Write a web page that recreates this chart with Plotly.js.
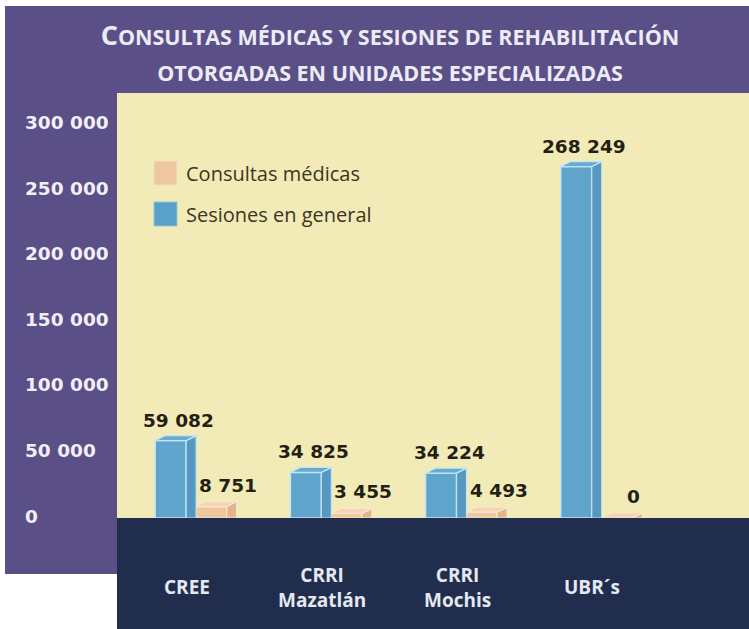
<!DOCTYPE html>
<html>
<head>
<meta charset="utf-8">
<script src="https://cdn.plot.ly/plotly-3.0.1.min.js"></script>
<style>html,body{margin:0;padding:0;background:#fff;}#chart{width:749px;height:629px;}</style>
</head>
<body>
<div id="chart"></div>
<script>
// ---- data ----
const categories = ["CREE", "CRRI<br>Mazatlán", "CRRI<br>Mochis", "UBR´s"];
const sesiones = [59082, 34825, 34224, 268249];
const consultas = [8751, 3455, 4493, 0];
const yTicks = [0, 50000, 100000, 150000, 200000, 250000, 300000];
const seriesNames = ["Consultas médicas", "Sesiones en general"];

// ---- geometry / style ----
const W = 749, H = 629;
const plotL = 117, plotT = 93, plotB = 518;
const yMax = 324400;
const xMin = -0.397, xMax = 4.278;
const pxPerX = (W - plotL) / (xMax - xMin);
const pxPerY = (plotB - plotT) / yMax;
const barW = 0.229;
const consOff = 0.30;
const dX = 10 / pxPerX, dY = 5 / pxPerY;

const fmt = v => String(v).replace(/\B(?=(\d{3})+(?!\d))/g, ' ');
const idx = categories.map((c, i) => i);

const blue = {front: '#5fa4cb', side: '#5798c0', top: '#68abd0', edge: '#c2e4f5'};
const peach = {front: '#eec7a0', side: '#e2b68b', top: '#f4d4b2', edge: '#fae6cc'};

function faceTraces(xs, vals, col) {
  const sx = [], sy = [], tx = [], ty = [];
  xs.forEach((xc, k) => {
    const v = vals[k], xl = xc - barW / 2, xr = xc + barW / 2;
    sx.push(xr, xr + dX, xr + dX, xr, xr, null);
    sy.push(0, 0, v + dY, v, 0, null);
    tx.push(xl, xr, xr + dX, xl + dX, xl, null);
    ty.push(v, v, v + dY, v + dY, v, null);
  });
  const base = {type: 'scatter', mode: 'lines', fill: 'toself', hoverinfo: 'skip', showlegend: false,
                line: {color: col.edge, width: 1.2}};
  return [Object.assign({}, base, {x: sx, y: sy, fillcolor: col.side}),
          Object.assign({}, base, {x: tx, y: ty, fillcolor: col.top})];
}

const xSes = idx.slice();
const xCon = idx.map(i => i + consOff);

const traces = [
  {type: 'bar', name: seriesNames[0], x: xCon, y: consultas, width: barW,
   marker: {color: peach.front, line: {color: peach.edge, width: 1.2}}, hoverinfo: 'skip', showlegend: false},
  ...faceTraces(xCon, consultas, peach),
  {type: 'bar', name: seriesNames[1], x: xSes, y: sesiones, width: barW,
   marker: {color: blue.front, line: {color: blue.edge, width: 1.5}}, hoverinfo: 'skip', showlegend: false},
  ...faceTraces(xSes, sesiones, blue)
];

const py = p => 1 - p / H;
const px = p => p / W;

const shapes = [
  {type: 'rect', xref: 'paper', yref: 'paper', x0: px(5), x1: 1, y0: py(574), y1: py(6),
   fillcolor: '#5a5087', line: {width: 0}, layer: 'below'},
  {type: 'rect', xref: 'paper', yref: 'paper', x0: px(plotL), x1: 1, y0: py(plotB), y1: py(plotT),
   fillcolor: '#f3ebb7', line: {width: 0}, layer: 'below'},
  {type: 'rect', xref: 'paper', yref: 'paper', x0: px(plotL), x1: 1, y0: 0, y1: py(plotB),
   fillcolor: '#202d4d', line: {width: 0}, layer: 'below'},
  // legend swatches
  {type: 'rect', xref: 'paper', yref: 'paper', x0: px(154), x1: px(177), y0: py(185), y1: py(161),
   fillcolor: '#edc7a0', line: {color: '#f6dfc3', width: 1}, layer: 'above'},
  {type: 'rect', xref: 'paper', yref: 'paper', x0: px(154), x1: px(177), y0: py(226), y1: py(202),
   fillcolor: '#58a2c8', line: {color: '#8fc3de', width: 1}, layer: 'above'}
];

const annotations = [];
yTicks.forEach(t => annotations.push({
  xref: 'paper', x: px(23), xanchor: 'left', yref: 'y', y: t, yanchor: 'middle', yshift: 2,
  text: '<b>' + fmt(t) + '</b>', showarrow: false,
  font: {family: 'DejaVu Sans', size: 18.5, color: '#f1eff7'}
}));
idx.forEach(i => annotations.push({
  xref: 'x', x: i + 0.12, xanchor: 'center', yref: 'paper', y: py(587), yanchor: 'middle',
  text: '<b>' + categories[i] + '</b>', showarrow: false,
  font: {family: 'Open Sans', size: 19, color: '#e4e8f1'}
}));
idx.forEach(i => annotations.push({
  xref: 'x', x: xSes[i], xanchor: 'center', xshift: 8, yref: 'y', y: sesiones[i] + dY, yanchor: 'bottom', yshift: 3,
  text: '<b>' + fmt(sesiones[i]) + '</b>', showarrow: false,
  font: {family: 'DejaVu Sans', size: 18.5, color: '#231f14'}
}));
idx.forEach(i => annotations.push({
  xref: 'x', x: xCon[i], xanchor: 'center', xshift: 17, yref: 'y', y: consultas[i], yanchor: 'bottom', yshift: 9,
  text: '<b>' + fmt(consultas[i]) + '</b>', showarrow: false,
  font: {family: 'DejaVu Sans', size: 18.5, color: '#231f14'}
}));
seriesNames.forEach((n, k) => annotations.push({
  xref: 'paper', x: px(184), xanchor: 'left', yref: 'paper', y: py(k === 0 ? 174 : 214), yanchor: 'middle',
  text: n, showarrow: false,
  font: {family: 'Open Sans', size: 20, color: '#3b3522'}
}));

const layout = {
  width: W, height: H,
  margin: {l: 0, r: 0, t: 0, b: 0, pad: 0},
  paper_bgcolor: '#ffffff', plot_bgcolor: 'rgba(0,0,0,0)',
  barmode: 'overlay',
  showlegend: false,
  title: {
    text: '<span style="font-size:27px">C</span><span style="font-size:21.5px">ONSULTAS MÉDICAS Y SESIONES DE REHABILITACIÓN</span><br><span style="font-size:21.5px">OTORGADAS EN UNIDADES ESPECIALIZADAS</span>',
    font: {family: 'Open Sans', size: 28, color: '#ecebf5', weight: 'bold'},
    x: 390 / W, xanchor: 'center', xref: 'paper',
    y: py(45), yanchor: 'top', yref: 'container'
  },
  xaxis: {domain: [px(plotL), 1], range: [xMin, xMax], showgrid: false, zeroline: false,
          showticklabels: false, ticks: '', showline: false, fixedrange: true},
  yaxis: {domain: [py(plotB), py(plotT)], range: [0, yMax], showgrid: false, zeroline: false,
          showticklabels: false, ticks: '', showline: false, fixedrange: true},
  shapes: shapes,
  annotations: annotations
};

Plotly.newPlot('chart', traces, layout, {displayModeBar: false, staticPlot: true});
</script>
</body>
</html>
